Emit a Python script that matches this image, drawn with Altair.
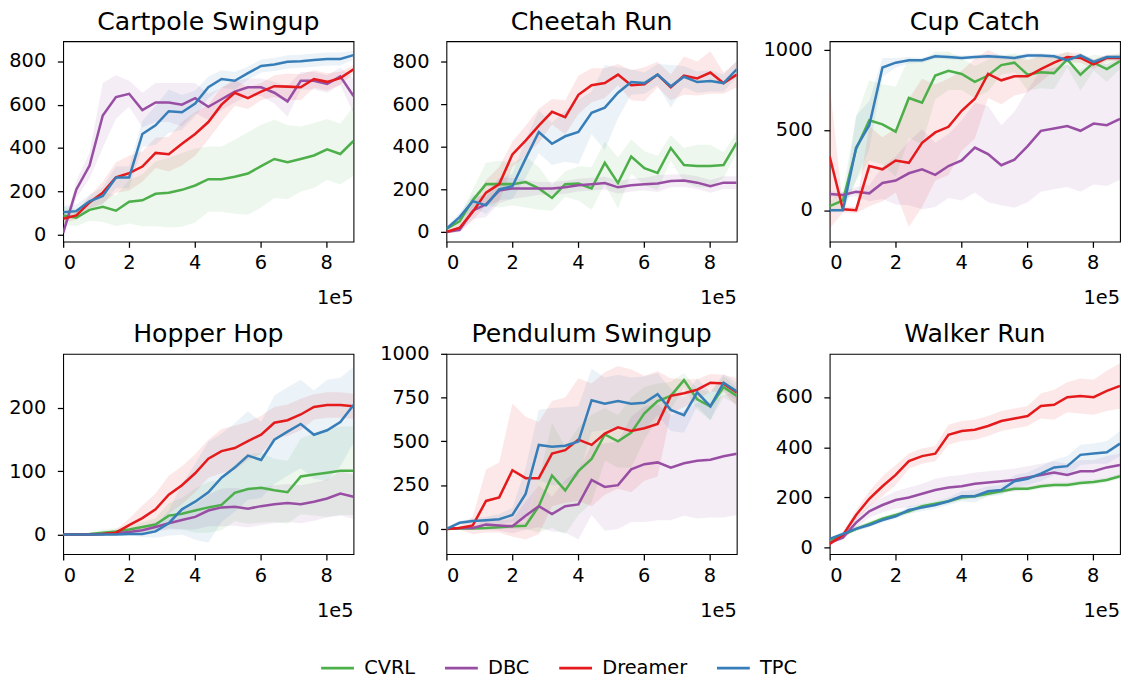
import altair as alt
import pandas as pd

METHODS = ["CVRL", "DBC", "Dreamer", "TPC"]
COLORS = ["#4daf4a", "#984ea3", "#e41a1c", "#377eb8"]

# environment steps, in units of 1e5
STEPS = [0.0, 0.4016, 0.8032, 1.2048, 1.6064, 2.008, 2.4096, 2.8112, 3.2128, 3.6144,
         4.016, 4.4176, 4.8192, 5.2208, 5.6224, 6.024, 6.4256, 6.8272, 7.2288, 7.6304,
         8.032, 8.4336, 8.835]
X_TICKS = [0, 2, 4, 6, 8]

# ---------------- Cartpole Swingup ----------------
CARTPOLE_CVRL = [90, 80, 116, 130, 112, 153, 160, 190, 195, 208, 228, 257, 257, 268, 283, 317, 350, 335, 350, 366, 394, 373, 433]
CARTPOLE_CVRL_SPREAD = [40, 40, 50, 70, 70, 100, 120, 150, 160, 170, 170, 150, 150, 170, 190, 190, 180, 170, 150, 150, 140, 140, 160]
CARTPOLE_DBC = [10, 210, 320, 550, 635, 650, 575, 610, 610, 600, 630, 590, 625, 660, 680, 680, 655, 615, 710, 710, 695, 730, 640]
CARTPOLE_DBC_SPREAD = [10, 40, 60, 150, 100, 60, 80, 90, 90, 100, 70, 60, 50, 50, 40, 40, 50, 70, 40, 40, 40, 40, 80]
CARTPOLE_DREAMER = [75, 90, 150, 195, 265, 285, 315, 378, 372, 420, 465, 520, 600, 655, 630, 660, 685, 683, 680, 718, 705, 722, 763]
CARTPOLE_DREAMER_SPREAD = [20, 20, 30, 50, 70, 80, 70, 70, 80, 100, 100, 80, 80, 60, 50, 40, 50, 60, 60, 40, 40, 30, 20]
CARTPOLE_TPC = [105, 110, 155, 180, 265, 265, 465, 505, 570, 565, 605, 680, 718, 710, 745, 778, 785, 797, 800, 805, 810, 810, 828]
CARTPOLE_TPC_SPREAD = [30, 30, 30, 40, 50, 50, 60, 90, 100, 80, 60, 50, 40, 40, 30, 30, 30, 30, 30, 30, 30, 30, 20]

# ---------------- Cheetah Run ----------------
CHEETAH_CVRL = [15, 50, 150, 225, 225, 225, 235, 205, 160, 225, 228, 205, 325, 230, 355, 300, 278, 395, 315, 310, 310, 315, 420]
CHEETAH_CVRL_SPREAD = [10, 20, 50, 100, 110, 100, 120, 100, 60, 60, 80, 100, 100, 120, 80, 80, 80, 60, 80, 100, 100, 60, 50]
CHEETAH_DBC = [0, 10, 100, 130, 195, 205, 205, 205, 205, 210, 220, 225, 230, 210, 220, 225, 228, 240, 242, 232, 215, 232, 232]
CHEETAH_DBC_SPREAD = [5, 10, 40, 60, 60, 50, 40, 30, 30, 30, 30, 30, 30, 30, 30, 30, 40, 30, 30, 30, 30, 30, 30]
CHEETAH_DREAMER = [0, 20, 95, 185, 225, 365, 430, 500, 565, 540, 645, 690, 700, 740, 690, 695, 740, 680, 735, 722, 750, 700, 740]
CHEETAH_DREAMER_SPREAD = [5, 20, 40, 60, 80, 60, 70, 80, 60, 80, 90, 80, 70, 50, 70, 80, 60, 60, 90, 80, 100, 50, 60]
CHEETAH_TPC = [15, 70, 145, 125, 200, 215, 345, 470, 415, 450, 470, 560, 585, 655, 705, 700, 740, 685, 730, 705, 710, 700, 765]
CHEETAH_TPC_SPREAD = [10, 20, 30, 40, 50, 60, 90, 100, 100, 120, 150, 100, 200, 120, 60, 50, 50, 100, 50, 50, 50, 40, 40]

# ---------------- Cup Catch ----------------
CUP_CVRL = [25, 60, 380, 560, 535, 490, 700, 670, 840, 870, 850, 800, 840, 905, 920, 845, 860, 855, 940, 845, 920, 880, 930]
CUP_CVRL_SPREAD = [30, 60, 200, 250, 250, 280, 250, 260, 150, 120, 100, 100, 100, 60, 60, 100, 100, 100, 50, 100, 50, 80, 50]
CUP_DBC = [100, 95, 115, 105, 170, 185, 230, 255, 220, 275, 310, 390, 350, 280, 315, 400, 495, 510, 525, 495, 540, 530, 570]
CUP_DBC_SPREAD = [20, 20, 30, 50, 100, 150, 200, 250, 200, 200, 250, 280, 300, 250, 300, 350, 380, 380, 380, 380, 380, 380, 380]
CUP_DREAMER = [335, 5, 0, 275, 255, 310, 295, 420, 485, 520, 620, 695, 850, 810, 835, 835, 880, 920, 955, 950, 910, 950, 950]
CUP_DREAMER_SPREAD = [450, 20, 20, 250, 200, 200, 400, 400, 300, 300, 250, 250, 150, 150, 120, 100, 80, 50, 30, 30, 30, 20, 20]
CUP_TPC = [0, 0, 390, 530, 890, 920, 935, 935, 960, 955, 950, 955, 960, 955, 950, 965, 965, 960, 935, 965, 925, 955, 955]
CUP_TPC_SPREAD = [10, 10, 200, 150, 60, 30, 20, 15, 15, 15, 15, 15, 15, 15, 15, 15, 15, 15, 15, 15, 15, 15, 15]

# ---------------- Hopper Hop ----------------
HOPPER_CVRL = [0, 0, 1, 3, 5, 8, 12, 16, 30, 33, 38, 43, 47, 66, 72, 74, 70, 67, 92, 95, 98, 101, 101]
HOPPER_CVRL_SPREAD = [1, 1, 2, 5, 5, 5, 8, 10, 20, 25, 35, 40, 40, 45, 55, 55, 50, 50, 60, 65, 70, 70, 70]
HOPPER_DBC = [0, 0, 0, 1, 2, 4, 7, 12, 18, 23, 28, 38, 43, 44, 41, 45, 48, 50, 48, 52, 57, 65, 60]
HOPPER_DBC_SPREAD = [1, 1, 1, 2, 3, 5, 6, 8, 10, 15, 20, 25, 30, 30, 30, 30, 30, 30, 30, 30, 30, 35, 35]
HOPPER_DREAMER = [0, 0, 0, 1, 3, 15, 26, 40, 63, 78, 97, 120, 132, 137, 148, 158, 177, 181, 190, 202, 205, 205, 203]
HOPPER_DREAMER_SPREAD = [1, 1, 1, 2, 5, 10, 20, 25, 30, 30, 30, 30, 35, 35, 30, 30, 25, 25, 25, 20, 20, 20, 20]
HOPPER_TPC = [0, 0, 0, 0, 0, 1, 1, 5, 18, 40, 52, 67, 90, 106, 125, 118, 150, 163, 175, 158, 165, 178, 205]
HOPPER_TPC_SPREAD = [1, 1, 1, 1, 1, 2, 5, 10, 20, 40, 60, 80, 70, 70, 70, 60, 70, 70, 70, 70, 80, 70, 60]

# ---------------- Pendulum Swingup ----------------
PENDULUM_CVRL = [0, 2, 3, 5, 10, 15, 18, 130, 305, 220, 330, 400, 540, 500, 550, 660, 730, 760, 850, 740, 700, 810, 760]
PENDULUM_CVRL_SPREAD = [0, 5, 5, 10, 10, 15, 20, 150, 300, 250, 250, 250, 150, 150, 200, 150, 100, 80, 40, 60, 80, 60, 50]
PENDULUM_DBC = [0, 5, 5, 25, 20, 15, 75, 130, 85, 130, 140, 280, 240, 250, 340, 370, 380, 350, 375, 390, 395, 415, 430]
PENDULUM_DBC_SPREAD = [0, 5, 10, 30, 30, 40, 80, 120, 100, 150, 200, 200, 250, 250, 300, 330, 330, 300, 300, 330, 330, 350, 350]
PENDULUM_DREAMER = [0, 5, 20, 160, 180, 335, 290, 290, 430, 450, 510, 480, 545, 580, 560, 575, 600, 760, 775, 795, 835, 830, 780]
PENDULUM_DREAMER_SPREAD = [0, 10, 50, 180, 200, 380, 350, 320, 300, 300, 350, 350, 350, 350, 350, 300, 300, 100, 80, 60, 50, 50, 80]
PENDULUM_TPC = [0, 35, 45, 50, 55, 80, 200, 480, 470, 475, 500, 735, 715, 730, 715, 720, 770, 680, 650, 780, 700, 835, 785]
PENDULUM_TPC_SPREAD = [0, 10, 15, 20, 30, 40, 150, 200, 220, 220, 200, 180, 150, 150, 150, 150, 120, 120, 100, 80, 80, 50, 50]

# ---------------- Walker Run ----------------
WALKER_CVRL = [30, 50, 75, 95, 115, 130, 145, 165, 175, 185, 200, 205, 215, 225, 235, 235, 245, 250, 250, 258, 262, 270, 285]
WALKER_CVRL_SPREAD = [5, 8, 10, 10, 10, 10, 10, 10, 10, 10, 10, 10, 10, 10, 10, 10, 10, 10, 10, 10, 10, 10, 10]
WALKER_DBC = [20, 40, 100, 145, 170, 190, 200, 215, 230, 240, 245, 255, 260, 265, 270, 280, 290, 300, 290, 305, 305, 320, 330]
WALKER_DBC_SPREAD = [5, 10, 20, 25, 30, 35, 40, 40, 45, 45, 45, 45, 45, 45, 45, 45, 45, 45, 45, 45, 45, 45, 45]
WALKER_DREAMER = [15, 50, 130, 195, 245, 290, 345, 365, 375, 450, 465, 470, 485, 505, 515, 525, 565, 570, 600, 605, 600, 625, 645]
WALKER_DREAMER_SPREAD = [5, 10, 20, 30, 40, 40, 30, 30, 30, 40, 40, 40, 40, 40, 40, 40, 50, 60, 60, 70, 70, 80, 90]
WALKER_TPC = [35, 55, 75, 90, 110, 125, 150, 160, 170, 185, 205, 205, 225, 230, 265, 275, 295, 320, 325, 370, 375, 380, 415]
WALKER_TPC_SPREAD = [5, 8, 10, 10, 10, 10, 15, 15, 15, 15, 20, 25, 20, 20, 25, 25, 30, 30, 40, 40, 40, 45, 50]

PANELS = [
    ("Cartpole Swingup", [-30, 892], [0, 200, 400, 600, 800],
     [CARTPOLE_CVRL, CARTPOLE_DBC, CARTPOLE_DREAMER, CARTPOLE_TPC],
     [CARTPOLE_CVRL_SPREAD, CARTPOLE_DBC_SPREAD, CARTPOLE_DREAMER_SPREAD, CARTPOLE_TPC_SPREAD]),
    ("Cheetah Run", [-45, 897], [0, 200, 400, 600, 800],
     [CHEETAH_CVRL, CHEETAH_DBC, CHEETAH_DREAMER, CHEETAH_TPC],
     [CHEETAH_CVRL_SPREAD, CHEETAH_DBC_SPREAD, CHEETAH_DREAMER_SPREAD, CHEETAH_TPC_SPREAD]),
    ("Cup Catch", [-196, 1054], [0, 500, 1000],
     [CUP_CVRL, CUP_DBC, CUP_DREAMER, CUP_TPC],
     [CUP_CVRL_SPREAD, CUP_DBC_SPREAD, CUP_DREAMER_SPREAD, CUP_TPC_SPREAD]),
    ("Hopper Hop", [-31, 286], [0, 100, 200],
     [HOPPER_CVRL, HOPPER_DBC, HOPPER_DREAMER, HOPPER_TPC],
     [HOPPER_CVRL_SPREAD, HOPPER_DBC_SPREAD, HOPPER_DREAMER_SPREAD, HOPPER_TPC_SPREAD]),
    ("Pendulum Swingup", [-144, 1000], [0, 250, 500, 750, 1000],
     [PENDULUM_CVRL, PENDULUM_DBC, PENDULUM_DREAMER, PENDULUM_TPC],
     [PENDULUM_CVRL_SPREAD, PENDULUM_DBC_SPREAD, PENDULUM_DREAMER_SPREAD, PENDULUM_TPC_SPREAD]),
    ("Walker Run", [-26, 773], [0, 200, 400, 600],
     [WALKER_CVRL, WALKER_DBC, WALKER_DREAMER, WALKER_TPC],
     [WALKER_CVRL_SPREAD, WALKER_DBC_SPREAD, WALKER_DREAMER_SPREAD, WALKER_TPC_SPREAD]),
]

W, H = 300, 207
FONT = "DejaVu Sans"

color_scale = alt.Scale(domain=METHODS, range=COLORS)

LEGEND = alt.Legend(
    orient="none", legendX=265, legendY=629, direction="horizontal", title=None,
    symbolType="stroke", symbolSize=1150, symbolStrokeWidth=2.6, symbolOpacity=1,
    labelFontSize=20, labelFont=FONT, labelColor="black", labelOffset=9,
    columnPadding=25,
)


def make_panel(title, ydom, yticks, means, spreads):
    rows = []
    for m, c, mean, spread in zip(METHODS, COLORS, means, spreads):
        for x, v, s in zip(STEPS, mean, spread):
            rows.append({"step": x, "method": m, "col": c, "mean": v, "lo": v - s, "hi": v + s})
    df = pd.DataFrame(rows)
    xenc = alt.X("step:Q", scale=alt.Scale(domain=[0, STEPS[-1]], nice=False, zero=False),
                 axis=alt.Axis(values=X_TICKS, format="d", title=None, ticks=True,
                               tickSize=6, tickWidth=1.3, tickColor="black", labelPadding=6))
    yscale = alt.Scale(domain=ydom, nice=False, zero=False)
    yaxis = alt.Axis(values=yticks, format="d", title=None, ticks=True,
                     tickSize=6, tickWidth=1.3, tickColor="black", labelPadding=12)
    base = alt.Chart(df)
    band = base.mark_area(opacity=0.1, clip=True).encode(
        x=xenc,
        y=alt.Y("lo:Q", scale=yscale, axis=yaxis),
        y2="hi:Q",
        fill=alt.Fill("col:N", scale=None),
        detail="method:N",
    )
    line = base.mark_line(strokeWidth=2.6, clip=True).encode(
        x=xenc,
        y=alt.Y("mean:Q", scale=yscale, axis=yaxis),
        color=alt.Color("method:N", scale=color_scale, legend=LEGEND),
    )
    labels = alt.Chart(pd.DataFrame({"t": ["1e5"], "title": [title]}))
    exp = labels.mark_text(
        align="right", baseline="alphabetic", fontSize=20, font=FONT, color="black"
    ).encode(x=alt.value(W), y=alt.value(H + 65), text="t:N")
    ttl = labels.mark_text(
        align="center", baseline="alphabetic", fontSize=26, font=FONT, color="black"
    ).encode(x=alt.value(W / 2), y=alt.value(-12), text="title:N")
    return alt.layer(band, line, exp, ttl).properties(width=W, height=H)


panels = [make_panel(*p) for p in PANELS]

chart = alt.concat(*panels, columns=3, spacing={"row": 12, "column": 25}).resolve_scale(
    x="independent", y="independent", color="shared"
).properties(
    padding={"left": 0, "top": -11, "right": 0, "bottom": 0}
).configure_view(
    stroke="black", strokeWidth=1.1
).configure_axis(
    domain=False, grid=False, ticks=True, tickColor="black", tickSize=6, tickWidth=1.3,
    labelFontSize=20, labelFont=FONT, labelColor="black",
).configure_axisY(
    labelPadding=12, minExtent=56, maxExtent=56,
).configure_axisX(
    labelPadding=6,
)

chart.save("out.html", embed_options={"renderer": "svg", "actions": False})
